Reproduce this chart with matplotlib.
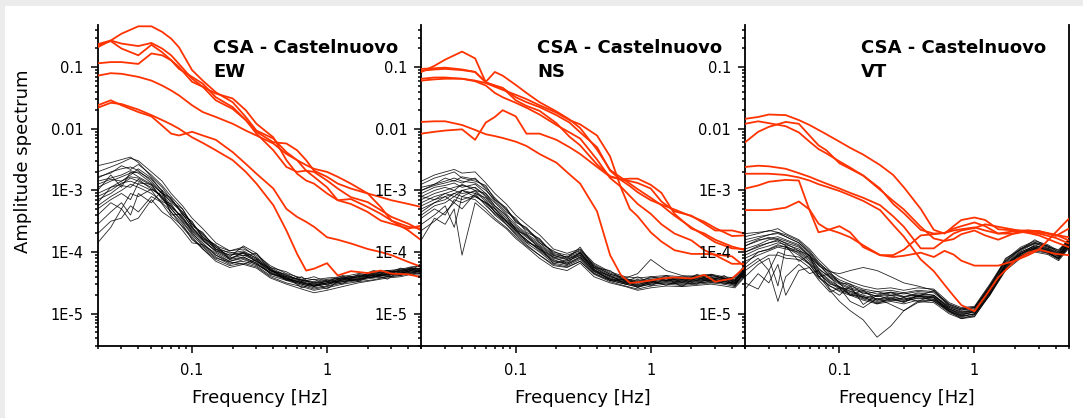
import numpy as np
import matplotlib
matplotlib.use('Agg')
import matplotlib.pyplot as plt
from matplotlib.patches import Rectangle
from matplotlib.ticker import FixedLocator, LogLocator, NullFormatter

# frequency samples [Hz]
freq_red = [0.02, 0.025, 0.03, 0.04, 0.05, 0.06, 0.07, 0.08, 0.1, 0.12, 0.15, 0.2, 0.25,
            0.3, 0.4, 0.5, 0.6, 0.7, 0.8, 1.0, 1.2, 1.5, 2.0, 2.5, 3.0, 4.0, 5.0]
freq_noise = [0.02, 0.025, 0.03, 0.035, 0.04, 0.05, 0.06, 0.07, 0.085, 0.1, 0.12, 0.15, 0.19,
              0.24, 0.3, 0.38, 0.5, 0.65, 0.8, 1.0, 1.3, 1.7, 2.2, 2.8, 3.5, 4.2, 5.0]

# log10 amplitude spectra, earthquake records (red)
ew_red = [
    [-0.68, -0.57, -0.46, -0.34, -0.34, -0.43, -0.54, -0.68, -1.05, -1.22, -1.41, -1.57, -1.81, -2.03, -2.16, -2.38, -2.51, -2.68, -2.70, -2.84, -2.97, -3.11, -3.19, -3.32, -3.43, -3.54, -3.65],
    [-0.65, -0.58, -0.70, -0.81, -0.64, -0.76, -0.89, -1.03, -1.16, -1.27, -1.49, -1.65, -1.86, -2.08, -2.35, -2.62, -2.70, -2.68, -2.78, -2.95, -3.16, -3.22, -3.35, -3.49, -3.54, -3.62, -3.57],
    [-0.63, -0.57, -0.62, -0.66, -0.61, -0.70, -0.81, -0.95, -1.19, -1.32, -1.43, -1.51, -1.70, -1.92, -2.14, -2.51, -2.73, -2.84, -2.89, -3.05, -3.16, -3.14, -3.27, -3.38, -3.49, -3.59, -3.62],
    [-0.94, -0.92, -0.92, -0.95, -0.78, -0.81, -0.89, -1.00, -1.24, -1.32, -1.54, -1.68, -1.86, -2.05, -2.22, -2.24, -2.35, -2.51, -2.68, -2.78, -2.89, -2.97, -3.05, -3.11, -3.16, -3.22, -3.27],
    [-1.14, -1.10, -1.11, -1.16, -1.22, -1.30, -1.38, -1.46, -1.62, -1.73, -1.81, -1.92, -2.03, -2.11, -2.24, -2.41, -2.51, -2.59, -2.65, -2.70, -2.78, -2.89, -3.05, -3.27, -3.49, -3.65, -3.81],
    [-1.66, -1.58, -1.60, -1.69, -1.78, -1.86, -1.93, -2.00, -2.14, -2.23, -2.35, -2.51, -2.70, -2.89, -3.24, -3.65, -4.03, -4.30, -4.27, -4.18, -4.38, -4.31, -4.34, -4.30, -4.35, -4.36, -4.41],
    [-1.62, -1.54, -1.62, -1.73, -1.80, -1.95, -2.08, -2.11, -2.05, -2.11, -2.18, -2.38, -2.57, -2.73, -2.97, -3.30, -3.43, -3.51, -3.59, -3.76, -3.80, -3.86, -3.95, -4.00, -4.05, -4.16, -4.24],
]
ns_red = [
    [-1.08, -0.98, -0.88, -0.75, -0.86, -1.25, -1.30, -1.34, -1.49, -1.57, -1.65, -1.78, -1.90, -2.06, -2.30, -2.68, -2.83, -2.93, -3.03, -3.16, -3.23, -3.31, -3.42, -3.51, -3.61, -3.74, -3.73],
    [-1.03, -1.02, -1.01, -1.04, -1.08, -1.24, -1.08, -1.14, -1.29, -1.42, -1.57, -1.72, -1.85, -1.99, -2.34, -2.67, -2.79, -2.89, -2.98, -3.12, -3.24, -3.41, -3.60, -3.73, -3.84, -3.94, -3.95],
    [-1.06, -1.04, -1.03, -1.05, -1.08, -1.25, -1.30, -1.34, -1.54, -1.63, -1.71, -1.91, -2.13, -2.27, -2.58, -2.77, -2.82, -2.85, -2.88, -2.97, -3.18, -3.34, -3.41, -3.54, -3.65, -3.65, -3.70],
    [-1.19, -1.17, -1.17, -1.19, -1.23, -1.30, -1.42, -1.49, -1.58, -1.66, -1.77, -1.94, -2.06, -2.16, -2.50, -2.80, -2.94, -3.09, -3.22, -3.38, -3.55, -3.70, -3.81, -3.97, -4.05, -4.19, -4.19],
    [-1.22, -1.20, -1.19, -1.19, -1.22, -1.26, -1.32, -1.37, -1.45, -1.52, -1.62, -1.74, -1.86, -1.93, -2.11, -2.45, -2.95, -3.30, -3.42, -3.68, -3.83, -3.97, -4.03, -4.03, -4.04, -4.07, -4.24],
    [-1.89, -1.88, -1.88, -1.94, -2.02, -2.09, -2.12, -2.15, -2.21, -2.28, -2.41, -2.55, -2.74, -2.89, -3.34, -4.05, -4.37, -4.50, -4.49, -4.46, -4.43, -4.41, -4.43, -4.37, -4.48, -4.43, -4.24],
    [-2.08, -2.05, -2.03, -2.01, -2.18, -1.90, -1.81, -1.70, -1.80, -2.08, -2.08, -2.18, -2.30, -2.41, -2.62, -2.78, -2.82, -2.81, -2.81, -2.91, -3.04, -3.38, -3.62, -3.70, -3.80, -3.91, -3.97],
]
vt_red = [
    [-1.84, -1.81, -1.77, -1.78, -1.86, -1.94, -2.02, -2.09, -2.21, -2.31, -2.42, -2.59, -2.75, -2.95, -3.30, -3.64, -3.70, -3.58, -3.48, -3.44, -3.48, -3.63, -3.65, -3.65, -3.66, -3.72, -3.81],
    [-1.92, -1.88, -1.91, -1.96, -2.06, -2.21, -2.33, -2.40, -2.53, -2.63, -2.76, -2.97, -3.22, -3.37, -3.64, -3.70, -3.69, -3.65, -3.63, -3.60, -3.65, -3.70, -3.66, -3.69, -3.73, -3.84, -3.92],
    [-2.22, -2.05, -1.97, -1.89, -1.92, -2.11, -2.27, -2.35, -2.56, -2.65, -2.76, -2.99, -3.17, -3.31, -3.59, -3.78, -3.82, -3.79, -3.71, -3.65, -3.73, -3.80, -3.69, -3.65, -3.68, -3.72, -3.76],
    [-2.62, -2.60, -2.61, -2.65, -2.72, -2.78, -2.84, -2.89, -2.97, -3.04, -3.12, -3.24, -3.42, -3.59, -3.94, -3.94, -3.81, -3.70, -3.65, -3.61, -3.55, -3.59, -3.64, -3.68, -3.70, -3.77, -3.86],
    [-2.73, -2.73, -2.73, -2.75, -2.79, -2.84, -2.90, -2.94, -3.01, -3.08, -3.17, -3.32, -3.56, -3.75, -4.12, -4.31, -4.53, -4.71, -4.86, -4.96, -4.72, -4.41, -4.14, -4.01, -3.96, -4.03, -4.05],
    [-2.97, -2.92, -2.86, -2.83, -2.84, -3.32, -3.68, -3.65, -3.58, -3.68, -3.92, -4.05, -4.05, -3.96, -3.73, -3.71, -3.69, -3.62, -3.58, -3.52, -3.58, -3.70, -3.70, -3.66, -3.66, -3.74, -3.62],
    [-3.32, -3.32, -3.32, -3.28, -3.18, -3.31, -3.54, -3.62, -3.69, -3.76, -3.89, -4.05, -4.08, -4.06, -4.01, -4.08, -3.98, -4.04, -4.14, -4.22, -4.22, -4.22, -4.14, -4.05, -3.96, -3.68, -3.46],
]

# log10 amplitude spectra, noise windows (black)
ew_noise = [
    [-2.70, -2.62, -2.55, -2.48, -2.52, -2.70, -2.85, -3.05, -3.25, -3.45, -3.62, -3.85, -3.98, -3.95, -4.05, -4.22, -4.35, -4.42, -4.45, -4.42, -4.40, -4.35, -4.32, -4.30, -4.28, -4.24, -4.22],
    [-2.78, -2.72, -2.60, -2.66, -2.58, -2.75, -2.92, -3.10, -3.30, -3.55, -3.70, -3.92, -4.02, -3.98, -4.10, -4.28, -4.40, -4.45, -4.50, -4.46, -4.42, -4.38, -4.35, -4.30, -4.32, -4.27, -4.26],
    [-2.85, -2.80, -2.75, -2.68, -2.72, -2.88, -3.05, -3.25, -3.45, -3.62, -3.78, -3.95, -4.10, -4.02, -4.12, -4.30, -4.42, -4.50, -4.55, -4.52, -4.45, -4.40, -4.38, -4.36, -4.34, -4.30, -4.33],
    [-2.95, -2.85, -2.78, -2.72, -2.70, -2.82, -3.00, -3.15, -3.38, -3.60, -3.80, -4.00, -4.12, -4.08, -4.18, -4.35, -4.45, -4.52, -4.58, -4.55, -4.48, -4.45, -4.40, -4.38, -4.36, -4.32, -4.35],
    [-3.05, -2.95, -2.90, -2.80, -2.85, -2.95, -3.12, -3.30, -3.50, -3.70, -3.85, -4.05, -4.15, -4.10, -4.20, -4.32, -4.43, -4.50, -4.54, -4.50, -4.46, -4.43, -4.40, -4.36, -4.35, -4.30, -4.31],
    [-3.15, -3.05, -2.92, -2.95, -2.82, -2.98, -3.08, -3.28, -3.42, -3.66, -3.82, -3.98, -4.05, -4.00, -4.10, -4.28, -4.38, -4.46, -4.50, -4.48, -4.44, -4.40, -4.36, -4.33, -4.30, -4.26, -4.28],
    [-3.25, -3.10, -3.00, -2.90, -2.95, -3.05, -3.18, -3.25, -3.45, -3.68, -3.88, -4.05, -4.18, -4.15, -4.22, -4.38, -4.46, -4.54, -4.60, -4.56, -4.50, -4.46, -4.42, -4.40, -4.38, -4.34, -4.36],
    [-3.40, -3.20, -3.30, -3.05, -3.10, -2.98, -3.10, -3.30, -3.52, -3.72, -3.90, -4.08, -4.20, -4.12, -4.20, -4.34, -4.44, -4.50, -4.55, -4.50, -4.47, -4.44, -4.40, -4.36, -4.34, -4.30, -4.32],
    [-3.55, -3.35, -3.20, -3.40, -3.05, -3.20, -3.00, -3.40, -3.38, -3.60, -3.75, -3.95, -4.05, -4.02, -4.16, -4.30, -4.40, -4.48, -4.53, -4.50, -4.45, -4.42, -4.38, -4.34, -4.31, -4.28, -4.29],
    [-3.70, -3.50, -3.45, -3.25, -3.35, -3.10, -3.20, -3.35, -3.60, -3.78, -3.95, -4.12, -4.22, -4.18, -4.24, -4.40, -4.50, -4.56, -4.62, -4.58, -4.52, -4.48, -4.45, -4.40, -4.38, -4.33, -4.35],
    [-3.85, -3.60, -3.30, -3.50, -3.45, -3.15, -3.35, -3.45, -3.65, -3.85, -3.88, -4.02, -4.15, -4.08, -4.18, -4.33, -4.44, -4.52, -4.56, -4.52, -4.48, -4.44, -4.40, -4.37, -4.35, -4.31, -4.33],
    [-2.90, -2.82, -2.85, -2.75, -2.65, -2.80, -3.02, -3.20, -3.35, -3.55, -3.72, -3.90, -3.98, -3.92, -4.08, -4.25, -4.38, -4.46, -4.48, -4.44, -4.42, -4.38, -4.34, -4.32, -4.30, -4.25, -4.27],
    [-3.10, -3.00, -2.88, -2.85, -2.90, -3.00, -3.22, -3.42, -3.58, -3.75, -3.95, -4.15, -4.25, -4.20, -4.26, -4.42, -4.52, -4.60, -4.66, -4.62, -4.56, -4.50, -4.46, -4.42, -4.40, -4.36, -4.38],
    [-3.30, -3.15, -3.05, -3.15, -2.88, -2.90, -3.15, -3.22, -3.48, -3.64, -3.80, -3.98, -4.10, -4.05, -4.14, -4.30, -4.42, -4.49, -4.52, -4.48, -4.43, -4.40, -4.37, -4.35, -4.33, -4.28, -4.30],
    [-2.60, -2.55, -2.50, -2.46, -2.55, -2.78, -2.95, -3.15, -3.35, -3.52, -3.75, -3.92, -4.08, -3.90, -4.02, -4.25, -4.32, -4.45, -4.40, -4.48, -4.38, -4.42, -4.30, -4.34, -4.26, -4.30, -4.18],
    [-3.00, -2.75, -2.95, -2.70, -2.78, -2.90, -3.05, -3.12, -3.40, -3.50, -3.78, -3.88, -4.12, -4.00, -4.15, -4.26, -4.46, -4.40, -4.56, -4.45, -4.52, -4.36, -4.42, -4.30, -4.37, -4.26, -4.34],
    [-3.20, -2.95, -2.85, -2.78, -2.80, -2.92, -3.12, -3.35, -3.55, -3.80, -3.92, -4.10, -4.16, -4.20, -4.12, -4.36, -4.40, -4.58, -4.50, -4.60, -4.42, -4.48, -4.36, -4.44, -4.30, -4.38, -4.26],
    [-2.80, -2.70, -2.65, -2.62, -2.68, -2.85, -3.05, -3.18, -3.30, -3.58, -3.68, -3.96, -4.00, -4.06, -4.02, -4.30, -4.36, -4.48, -4.44, -4.54, -4.40, -4.46, -4.33, -4.40, -4.27, -4.35, -4.24],
]
ns_noise = [
    [-2.85, -2.75, -2.70, -2.66, -2.72, -2.70, -2.88, -3.05, -3.22, -3.40, -3.55, -3.72, -3.95, -4.02, -3.95, -4.18, -4.32, -4.40, -4.42, -4.40, -4.38, -4.40, -4.38, -4.36, -4.40, -4.42, -4.20],
    [-2.95, -2.90, -2.80, -2.85, -2.78, -2.82, -2.95, -3.12, -3.30, -3.48, -3.62, -3.80, -4.02, -4.08, -4.00, -4.22, -4.36, -4.44, -4.46, -4.42, -4.40, -4.42, -4.40, -4.38, -4.42, -4.44, -4.25],
    [-3.05, -2.95, -2.92, -2.88, -2.95, -2.90, -3.05, -3.20, -3.38, -3.55, -3.70, -3.85, -4.05, -4.12, -4.02, -4.25, -4.40, -4.46, -4.50, -4.46, -4.44, -4.46, -4.43, -4.42, -4.45, -4.48, -4.30],
    [-3.15, -3.05, -3.00, -2.95, -2.92, -2.96, -3.10, -3.28, -3.45, -3.62, -3.76, -3.92, -4.10, -4.15, -4.05, -4.28, -4.42, -4.48, -4.52, -4.48, -4.46, -4.47, -4.45, -4.44, -4.46, -4.50, -4.32],
    [-3.20, -3.10, -3.05, -3.00, -3.05, -3.02, -3.18, -3.34, -3.50, -3.66, -3.80, -3.96, -4.14, -4.18, -4.08, -4.31, -4.44, -4.50, -4.55, -4.50, -4.48, -4.49, -4.47, -4.46, -4.48, -4.52, -4.33],
    [-3.30, -3.20, -3.10, -3.20, -3.00, -3.05, -3.12, -3.30, -3.48, -3.60, -3.74, -3.90, -4.08, -4.12, -4.04, -4.26, -4.40, -4.47, -4.50, -4.45, -4.43, -4.45, -4.44, -4.42, -4.44, -4.47, -4.30],
    [-3.40, -3.25, -3.20, -3.10, -3.15, -3.08, -3.22, -3.40, -3.55, -3.70, -3.85, -4.00, -4.18, -4.22, -4.12, -4.34, -4.46, -4.52, -4.57, -4.52, -4.50, -4.52, -4.50, -4.48, -4.50, -4.54, -4.35],
    [-3.55, -3.40, -3.25, -3.60, -3.10, -3.15, -3.30, -3.45, -3.60, -3.75, -3.90, -4.05, -4.22, -4.25, -4.15, -4.36, -4.48, -4.55, -4.60, -4.55, -4.52, -4.54, -4.52, -4.50, -4.52, -4.56, -4.38],
    [-3.65, -3.50, -3.35, -3.20, -3.30, -3.05, -3.25, -3.38, -3.52, -3.68, -3.82, -3.95, -4.12, -4.20, -4.08, -4.30, -4.43, -4.49, -4.53, -4.48, -4.46, -4.48, -4.46, -4.45, -4.47, -4.51, -4.32],
    [-3.80, -3.45, -3.55, -3.30, -4.05, -3.20, -3.35, -3.48, -3.62, -3.78, -3.92, -4.10, -4.25, -4.30, -4.18, -4.40, -4.50, -4.56, -4.62, -4.58, -4.55, -4.56, -4.54, -4.52, -4.55, -4.58, -4.40],
    [-3.00, -2.90, -2.85, -2.80, -2.85, -2.88, -3.00, -3.15, -3.32, -3.50, -3.64, -3.82, -4.00, -4.05, -3.98, -4.20, -4.34, -4.42, -4.35, -4.12, -4.30, -4.38, -4.40, -4.38, -4.42, -4.45, -4.26],
    [-3.10, -3.15, -3.05, -3.10, -3.00, -2.95, -3.08, -3.25, -3.42, -3.58, -3.72, -3.88, -4.06, -4.10, -4.02, -4.24, -4.38, -4.45, -4.48, -4.44, -4.42, -4.44, -4.42, -4.40, -4.43, -4.46, -4.28],
    [-3.25, -3.15, -3.10, -3.05, -3.10, -3.00, -3.15, -3.35, -3.55, -3.72, -3.88, -4.05, -4.20, -4.24, -4.15, -4.35, -4.46, -4.52, -4.56, -4.52, -4.50, -4.52, -4.50, -4.48, -4.50, -4.52, -4.36],
    [-3.45, -3.30, -3.40, -3.15, -3.20, -3.10, -3.20, -3.30, -3.50, -3.65, -3.80, -3.98, -4.15, -4.20, -4.10, -4.32, -4.44, -4.50, -4.54, -4.50, -4.48, -4.50, -4.48, -4.46, -4.48, -4.50, -4.34],
    [-2.90, -2.80, -2.75, -2.70, -2.80, -2.85, -2.92, -3.15, -3.28, -3.52, -3.60, -3.85, -3.98, -4.10, -3.92, -4.25, -4.30, -4.48, -4.40, -4.50, -4.38, -4.50, -4.36, -4.46, -4.38, -4.50, -4.22],
    [-3.10, -3.00, -2.95, -3.00, -2.90, -3.00, -3.05, -3.25, -3.40, -3.65, -3.72, -3.95, -4.08, -4.18, -4.00, -4.30, -4.38, -4.52, -4.44, -4.55, -4.42, -4.56, -4.40, -4.50, -4.42, -4.55, -4.28],
    [-3.35, -3.20, -3.15, -3.05, -3.00, -3.10, -3.20, -3.35, -3.50, -3.62, -3.84, -3.92, -4.18, -4.14, -4.06, -4.28, -4.46, -4.44, -4.58, -4.46, -4.54, -4.44, -4.52, -4.40, -4.52, -4.46, -4.30],
    [-3.00, -2.92, -2.88, -2.84, -2.88, -2.80, -2.98, -3.18, -3.35, -3.45, -3.68, -3.78, -4.04, -4.08, -3.96, -4.22, -4.36, -4.42, -4.50, -4.40, -4.46, -4.42, -4.46, -4.36, -4.44, -4.40, -4.24],
]
vt_noise = [
    [-3.70, -3.68, -3.66, -3.62, -3.70, -3.80, -3.95, -4.12, -4.30, -4.40, -4.48, -4.55, -4.60, -4.58, -4.62, -4.58, -4.60, -4.82, -4.90, -4.88, -4.52, -4.12, -3.92, -3.82, -3.88, -3.98, -3.78],
    [-3.85, -3.78, -3.72, -3.70, -3.75, -3.85, -4.02, -4.20, -4.38, -4.48, -4.55, -4.62, -4.68, -4.65, -4.68, -4.64, -4.66, -4.86, -4.94, -4.92, -4.56, -4.16, -3.96, -3.86, -3.92, -4.02, -3.82],
    [-3.95, -3.88, -3.80, -3.78, -3.82, -3.90, -4.08, -4.26, -4.42, -4.52, -4.60, -4.66, -4.72, -4.70, -4.72, -4.68, -4.70, -4.90, -4.97, -4.95, -4.60, -4.20, -4.00, -3.90, -3.95, -4.05, -3.85],
    [-4.05, -3.95, -3.90, -3.85, -3.88, -3.95, -4.10, -4.30, -4.46, -4.56, -4.63, -4.70, -4.76, -4.73, -4.76, -4.71, -4.73, -4.93, -5.00, -4.98, -4.63, -4.23, -4.03, -3.93, -3.98, -4.08, -3.88],
    [-4.15, -4.05, -3.98, -3.92, -3.95, -4.00, -4.15, -4.35, -4.50, -4.60, -4.66, -4.74, -4.80, -4.77, -4.80, -4.74, -4.76, -4.96, -5.03, -5.01, -4.66, -4.26, -4.06, -3.96, -4.01, -4.11, -3.91],
    [-4.25, -4.10, -4.30, -4.00, -4.05, -4.08, -4.20, -4.40, -4.55, -4.64, -4.70, -4.78, -4.84, -4.80, -4.84, -4.78, -4.79, -4.98, -5.06, -5.04, -4.70, -4.30, -4.10, -4.00, -4.04, -4.14, -3.94],
    [-4.40, -4.20, -4.10, -4.55, -3.90, -4.15, -4.05, -4.40, -4.35, -4.50, -4.70, -4.62, -4.78, -4.70, -4.78, -4.72, -4.74, -4.94, -5.02, -4.97, -4.62, -4.22, -4.02, -3.92, -3.96, -4.06, -3.86],
    [-4.60, -4.35, -4.50, -4.20, -4.70, -4.30, -4.25, -4.45, -4.65, -4.58, -4.80, -4.90, -4.75, -4.85, -4.95, -4.80, -4.82, -5.00, -5.08, -5.02, -4.68, -4.28, -4.08, -3.98, -4.02, -4.12, -3.92],
    [-3.90, -3.82, -3.76, -3.80, -3.85, -3.92, -4.06, -4.22, -4.32, -4.35, -4.30, -4.25, -4.30, -4.40, -4.50, -4.55, -4.62, -4.85, -4.92, -4.90, -4.55, -4.15, -3.95, -3.85, -3.90, -4.00, -3.80],
    [-4.00, -3.92, -3.85, -3.82, -3.90, -4.02, -4.20, -4.38, -4.62, -4.80, -4.95, -5.10, -5.38, -5.20, -4.95, -4.82, -4.78, -4.95, -5.04, -5.00, -4.64, -4.24, -4.04, -3.94, -4.00, -4.10, -3.88],
    [-4.10, -4.00, -3.96, -3.90, -3.92, -3.98, -4.12, -4.32, -4.48, -4.58, -4.64, -4.72, -4.78, -4.75, -4.78, -4.72, -4.74, -4.96, -5.08, -5.05, -4.68, -4.28, -4.06, -3.95, -4.00, -4.10, -3.90],
    [-4.30, -4.15, -4.05, -4.05, -4.10, -4.12, -4.25, -4.42, -4.55, -4.62, -4.68, -4.76, -4.82, -4.78, -4.80, -4.75, -4.77, -4.92, -4.99, -4.96, -4.62, -4.22, -4.02, -3.92, -3.97, -4.07, -3.87],
    [-4.50, -4.60, -4.30, -4.80, -4.40, -4.20, -4.35, -4.30, -4.60, -4.70, -4.55, -4.85, -4.70, -4.65, -4.72, -4.70, -4.72, -4.90, -4.98, -4.95, -4.60, -4.20, -4.00, -3.90, -3.94, -4.04, -3.84],
    [-3.80, -3.75, -3.72, -3.68, -3.72, -3.82, -3.98, -4.16, -4.35, -4.45, -4.52, -4.60, -4.64, -4.62, -4.66, -4.62, -4.64, -4.84, -4.92, -4.90, -4.54, -4.14, -3.94, -3.84, -3.90, -4.00, -3.80],
    [-3.75, -3.70, -3.65, -3.68, -3.75, -3.85, -4.00, -4.18, -4.32, -4.50, -4.52, -4.68, -4.64, -4.70, -4.66, -4.72, -4.62, -4.88, -4.94, -4.90, -4.58, -4.10, -3.96, -3.80, -3.92, -3.96, -3.82],
    [-4.00, -3.90, -3.85, -3.80, -3.86, -3.98, -4.05, -4.28, -4.40, -4.58, -4.60, -4.75, -4.70, -4.78, -4.74, -4.80, -4.70, -4.92, -5.02, -4.96, -4.65, -4.20, -4.04, -3.88, -3.98, -4.05, -3.86],
    [-4.20, -4.00, -3.95, -3.88, -3.92, -4.05, -4.18, -4.34, -4.52, -4.56, -4.70, -4.72, -4.84, -4.74, -4.82, -4.70, -4.80, -4.96, -5.05, -5.00, -4.70, -4.25, -4.08, -3.94, -4.02, -4.10, -3.92],
    [-3.90, -3.80, -3.78, -3.75, -3.80, -3.88, -4.05, -4.20, -4.40, -4.50, -4.58, -4.64, -4.72, -4.66, -4.74, -4.66, -4.70, -4.88, -4.96, -4.94, -4.58, -4.18, -3.98, -3.86, -3.94, -4.02, -3.84],
]

station = 'CSA - Castelnuovo'
components = ['EW', 'NS', 'VT']
ytick_vals = [1e-1, 1e-2, 1e-3, 1e-4, 1e-5]
ytick_labels = ['0.1', '0.01', '1E-3', '1E-4', '1E-5']
xtick_vals = [0.1, 1]
xtick_labels = ['0.1', '1']

RED = '#ff3300'
W, H = 1083, 418

fig = plt.figure(figsize=(W / 100, H / 100), dpi=100)
fig.patch.set_facecolor('white')
# light grey page edge on the left and top
fig.patches.append(Rectangle((0, 0), 5 / W, 1, transform=fig.transFigure,
                             facecolor='#ececec', edgecolor='none', zorder=0))
fig.patches.append(Rectangle((0, 1 - 6 / H), 1, 6 / H, transform=fig.transFigure,
                             facecolor='#ececec', edgecolor='none', zorder=0))

lefts = [97.7, 421.4, 745.1]
panels = [(ew_red, ew_noise), (ns_red, ns_noise), (vt_red, vt_noise)]

for i, (comp, (red, noise)) in enumerate(zip(components, panels)):
    ax = fig.add_axes([lefts[i] / W, 72 / H, 323.7 / W, 321 / H])
    ax.set_xscale('log')
    ax.set_yscale('log')

    for row in noise:
        ax.plot(freq_noise, 10 ** np.array(row), color='black', lw=0.6, alpha=0.85, zorder=2)
    for row in red:
        ax.plot(freq_red, 10 ** np.array(row), color=RED, lw=1.3, zorder=3)

    ax.set_xlim(0.02, 5)
    ax.set_ylim(3e-6, 0.48)

    ax.yaxis.set_major_locator(FixedLocator(ytick_vals))
    ax.set_yticklabels(ytick_labels)
    ax.yaxis.set_minor_locator(LogLocator(base=10, subs=np.arange(2, 10)))
    ax.yaxis.set_minor_formatter(NullFormatter())
    ax.xaxis.set_major_locator(FixedLocator(xtick_vals))
    ax.set_xticklabels(xtick_labels)
    ax.xaxis.set_minor_locator(LogLocator(base=10, subs=np.arange(2, 10)))
    ax.xaxis.set_minor_formatter(NullFormatter())

    ax.tick_params(which='both', direction='out', top=False, right=False,
                   width=1.1, colors='black', labelsize=10.5)
    ax.tick_params(which='major', length=5)
    ax.tick_params(which='minor', length=2.5)
    ax.tick_params(axis='y', which='major', pad=5)
    ax.tick_params(axis='x', which='major', pad=7)

    ax.spines['top'].set_visible(False)
    if i < 2:
        ax.spines['right'].set_visible(False)
    for s in ax.spines.values():
        s.set_linewidth(1.3)

    ax.set_xlabel('Frequency [Hz]', fontsize=13)
    ax.xaxis.set_label_coords(0.5, -0.135)
    if i == 0:
        ax.set_ylabel('Amplitude spectrum', fontsize=13)
        ax.yaxis.set_label_coords(-0.203, 0.575)

    # station name and component, two separate lines
    ax.text(0.357, 0.955, station, transform=ax.transAxes,
            fontsize=13, fontweight='bold', ha='left', va='top')
    ax.text(0.357, 0.883, comp, transform=ax.transAxes,
            fontsize=13, fontweight='bold', ha='left', va='top')

fig.savefig('out.png', dpi=100, facecolor=fig.get_facecolor())
